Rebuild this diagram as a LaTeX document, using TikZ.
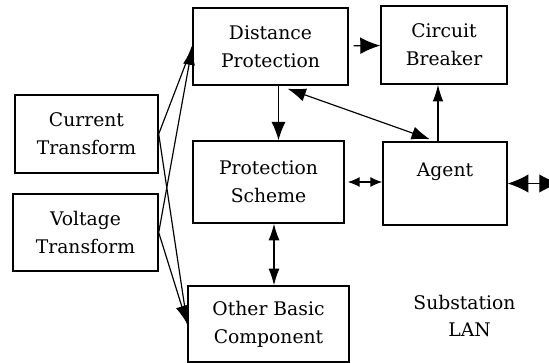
\documentclass[tikz,border=0pt]{standalone}
\usepackage{fontspec}
\setmainfont{DejaVu Serif}
\usetikzlibrary{arrows.meta,calc}

\tikzset{
  block/.style={draw, line width=1.2pt, align=center, inner sep=0pt,
    font=\fontsize{16}{23.8}\selectfont},
  link/.style={line width=1pt},
}

\begin{document}
\begin{tikzpicture}[x=0.03cm, y=-0.03cm]
    \useasboundingbox (0,0) rectangle (549,363);
    \node[block, minimum width=4.65cm, minimum height=2.31cm] (dp) at (270.5,46.5) {Distance\\Protection};
    \node[block, minimum width=3.78cm, minimum height=2.34cm] (cb) at (444,45) {Circuit\\Breaker};
    \node[block, minimum width=4.29cm, minimum height=2.34cm] (ct) at (86.5,134) {Current\\Transform};
    \node[block, minimum width=4.35cm, minimum height=2.31cm] (vt) at (85.5,232.5) {Voltage\\Transform};
    \node[block, minimum width=4.53cm, minimum height=2.46cm] (ps) at (268.5,182) {Protection\\Scheme};
    \node[block, minimum width=3.72cm, minimum height=2.49cm] (ag) at (445,183.5) {Agent\\\mbox{}};
    \node[block, minimum width=4.83cm, minimum height=2.28cm] (obc) at (268.5,324) {Other Basic\\Component};
    \node[align=left, inner sep=0pt, font=\fontsize{16}{23.8}\selectfont] (lan) at (464.5,316) {Substation\\\hspace*{1.05cm}LAN};
    \coordinate (bus) at (560,183.5);
    \coordinate (dp1) at ($(dp.south)+(8,0)$);
    \coordinate (dp2) at ($(dp.south)+(17,3)$);
    \coordinate (ag1) at ($(ag.north)+(-7,0)$);
    \coordinate (ag2) at ($(ag.north)+(-15,-2)$);
    \coordinate (ps1) at ($(ps.south)+(5.5,0)$);

    \draw[link, -{Latex[length=0.55cm,width=0.36cm]}]
    (ct.east) -- (dp.west)
    (vt.east) -- (dp.west);
    \draw[link, -{Latex[length=0.55cm,width=0.36cm]}]
    (ct.east) -- (obc.west)
    (vt.east) -- (obc.west);
    \draw[link, -{Latex[length=0.6cm,width=0.5cm]}, shorten <=0.15cm] (dp) -- (cb);
    \draw[link, -{Latex[length=0.55cm,width=0.42cm]}] (dp1) -- (dp1 |- ps.north);
    \draw[link, {Latex[length=0.55cm,width=0.4cm]}-{Latex[length=0.55cm,width=0.4cm]}] (dp2) -- (ag2);
    \draw[link, -{Latex[length=0.5cm,width=0.32cm]}] (ag1) -- (ag1 |- cb.south);
    \draw[link, {Latex[length=0.36cm,width=0.3cm]}-{Latex[length=0.36cm,width=0.3cm]}, shorten <=0.09cm]
    (ps.east) -- (ps.east -| ag.west);
    \draw[link, {Latex[length=0.5cm,width=0.33cm]}-{Latex[length=0.5cm,width=0.33cm]}] (ps1) -- (ps1 |- obc.north);
    \draw[link, {Latex[length=0.62cm,width=0.55cm]}-{Latex[length=0.62cm,width=0.55cm]}] (ag.east) -- (bus);
  \end{tikzpicture}
\end{document}
